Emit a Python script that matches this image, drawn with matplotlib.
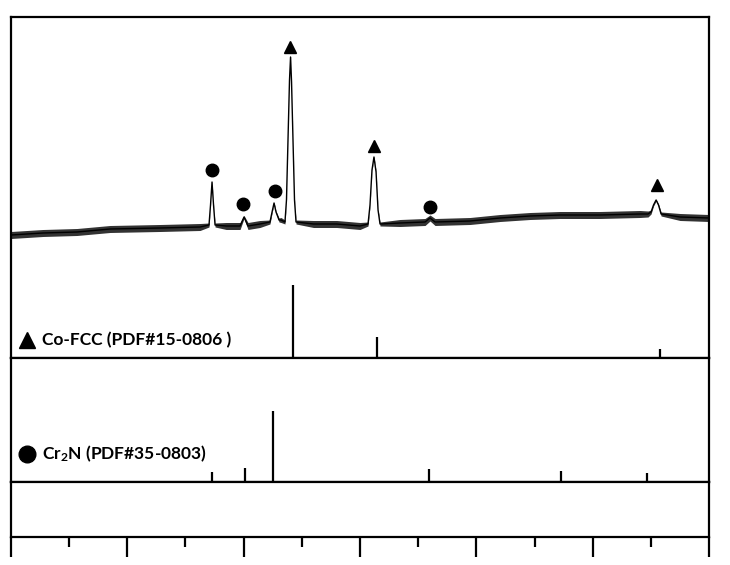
import matplotlib
matplotlib.use("Agg")
import matplotlib.pyplot as plt
from matplotlib.ticker import MultipleLocator

plt.rcParams['mathtext.fontset'] = 'custom'
plt.rcParams['mathtext.rm'] = 'Lato:bold'
plt.rcParams['mathtext.it'] = 'Lato:bold'
plt.rcParams['mathtext.bf'] = 'Lato:bold'

# ---- measured XRD pattern (2theta, intensity in arbitrary units) ----
two_theta = [20.0, 22.75, 25.67, 28.51, 32.81, 36.25, 37.02, 37.15, 37.28, 37.41, 37.54,
             38.5, 39.69, 40.03, 40.37, 41.40, 42.26, 42.44, 42.61, 42.78, 43.04, 43.21,
             43.55, 43.68, 43.81, 43.94, 44.03, 44.11, 44.24, 44.37, 44.50, 46.0, 48.0,
             50.0, 50.69, 50.86, 51.03, 51.20, 51.38, 51.55, 51.72, 53.44, 55.59, 56.02,
             56.45, 59.46, 62.04, 64.62, 67.19, 70.63, 74.07, 74.76, 75.02, 75.23, 75.45,
             75.66, 75.88, 77.51, 80.0]
intensity = [123, 125, 126, 129, 130, 131, 133, 153, 176, 153, 133,
             132, 132, 141, 132, 134, 136, 146, 155, 146, 138, 138,
             136, 158, 218, 278, 301, 278, 218, 158, 136, 134, 134,
             132, 134, 153, 188, 201, 186, 148, 134, 135, 136, 140,
             136, 137, 140, 142, 143, 143, 144, 144, 146, 153, 158,
             153, 144, 141, 140]
noise = [3.5, 3.5, 3.5, 3.5, 3.5, 3.5, 2.0, 0.8, 0.8, 0.8, 2.0,
         3.5, 3.5, 1.5, 3.5, 3.5, 2.0, 1.0, 1.0, 1.0, 2.0, 2.5,
         2.0, 0.8, 0.8, 0.8, 0.8, 0.8, 0.8, 0.8, 2.0, 3.5, 3.5,
         3.5, 2.0, 1.0, 1.0, 1.0, 1.0, 1.0, 2.0, 3.5, 3.5, 3.0,
         3.5, 3.5, 3.5, 3.5, 3.5, 3.5, 3.5, 3.0, 2.0, 1.0, 1.0,
         1.0, 2.0, 3.5, 3.5]

# ---- peak markers ----
fcc_peaks_x = [44.0, 51.2, 75.5]
fcc_peaks_y = [311, 212, 173]
cr2n_peaks_x = [37.3, 39.95, 42.7, 56.0]
cr2n_peaks_y = [188, 154, 167, 151]

# ---- reference cards ----
co_fcc_pos = [44.2, 51.5, 75.8]
co_fcc_int = [100, 29, 12]
cr2n_pos = [37.3, 40.1, 42.5, 55.9, 67.3, 74.7]
cr2n_int = [14, 20, 100, 18, 15, 13]

co_label = "Co-FCC (PDF#15-0806 )"
cr_label = r"Cr$_{\mathrm{2}}$N (PDF#35-0803)"

fig = plt.figure(figsize=(7.3, 5.65), dpi=100)
gs = fig.add_gridspec(3, 1, height_ratios=[341, 124, 55], hspace=0,
                      left=11/730, right=709/730, bottom=28/565, top=548/565)
ax1 = fig.add_subplot(gs[0])
ax2 = fig.add_subplot(gs[1], sharex=ax1)
ax3 = fig.add_subplot(gs[2], sharex=ax1)

lw_frame = 1.6
for ax in (ax1, ax2, ax3):
    for s in ax.spines.values():
        s.set_linewidth(lw_frame)
    ax.set_yticks([])
    ax.tick_params(axis='x', which='both', bottom=False, labelbottom=False)

ax1.set_xlim(20, 80)
ax1.set_ylim(0, 341)
ax2.set_ylim(0, 124)
ax3.set_ylim(0, 55)

lo = [i - n for i, n in zip(intensity, noise)]
hi = [i + n for i, n in zip(intensity, noise)]
ax1.fill_between(two_theta, lo, hi, color='black', alpha=0.8, linewidth=0)
ax1.plot(two_theta, intensity, color='black', lw=1.0)

ax1.plot(fcc_peaks_x, fcc_peaks_y, linestyle='none', marker='^', color='black', markersize=9)
ax1.plot(cr2n_peaks_x, cr2n_peaks_y, linestyle='none', marker='o', color='black', markersize=9)

ax1.vlines(co_fcc_pos, 0, [v * 0.73 for v in co_fcc_int], color='black', lw=1.6)
ax2.vlines(cr2n_pos, 0, [v * 0.71 for v in cr2n_int], color='black', lw=1.6)

ax1.plot([21.35], [18], marker='^', color='black', markersize=12)
ax1.text(22.65, 18, co_label, fontfamily='Lato', fontweight='bold', fontsize=12.5,
         va='center', ha='left')
ax2.plot([21.35], [28], marker='o', color='black', markersize=12)
ax2.text(22.65, 28, cr_label, fontfamily='Lato', fontweight='bold', fontsize=12.5,
         va='center', ha='left')

ax3.xaxis.set_major_locator(MultipleLocator(10))
ax3.xaxis.set_minor_locator(MultipleLocator(5))
ax3.tick_params(axis='x', which='both', bottom=True, labelbottom=False, direction='out')
ax3.tick_params(axis='x', which='major', length=14.5, width=1.6)
ax3.tick_params(axis='x', which='minor', length=7.5, width=1.6)

fig.savefig("out.png", dpi=100)
